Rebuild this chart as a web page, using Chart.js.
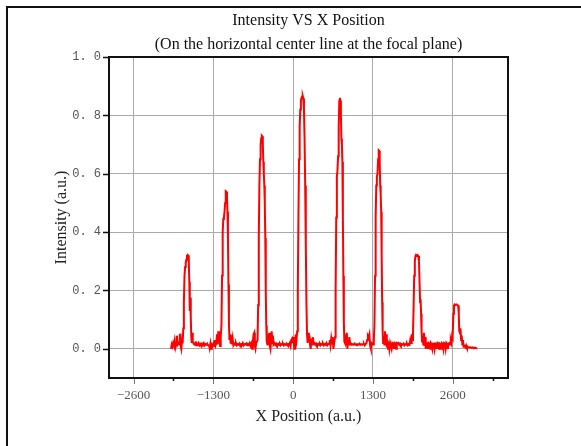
<!DOCTYPE html>
<html>
<head>
<meta charset="utf-8">
<script src="https://cdn.jsdelivr.net/npm/chart.js@4.4.1/dist/chart.umd.min.js"></script>
<style>
  html, body { margin: 0; padding: 0; background: #fff; }
  #wrap { position: relative; width: 581px; height: 446px; overflow: hidden; background: #fff; }
  #frame { position: absolute; left: 6px; top: 6px; width: 600px; height: 460px;
           border-top: 2px solid #111; border-left: 2px solid #111; }
  #c { position: absolute; left: 0; top: 0; }
</style>
</head>
<body>
<div id="wrap">
  <div id="frame"></div>
  <canvas id="c" width="581" height="446"></canvas>
</div>
<script>
// Intensity profile along the horizontal centre line (x position, intensity)
const xPos = [
  -1990,-1978,-1966,-1954,-1942,-1930,-1918,-1906,-1894,-1882,-1870,-1858,-1846,-1834,-1822,-1810,-1800,-1790,-1780,-1770,-1760,-1750,-1740,-1730,-1720,-1710,-1700,-1692,-1684,-1676,-1668,-1660,-1652,-1644,-1636,-1624,
  -1610,-1596,-1582,-1568,-1554,-1540,-1526,-1512,-1498,-1484,-1470,-1456,-1442,-1428,-1414,-1400,-1386,-1372,-1360,-1348,-1336,-1324,-1312,-1300,-1288,-1276,-1264,-1252,-1240,-1230,-1220,-1210,-1200,-1190,-1180,
  -1168,-1158,-1148,-1138,-1128,-1118,-1108,-1098,-1088,-1078,-1070,-1062,-1054,-1046,-1038,
  -1028,-1018,-1008,-998,-986,-974,-960,-946,-932,-918,-904,-890,-876,-862,-848,-834,-820,-806,-792,-778,-764,-750,-736,-722,-708,-694,-680,-668,-656,-644,-634,-624,-614,-602,
  -580,-570,-560,-550,-540,-530,-520,-510,-502,-494,-486,-478,-470,-462,-454,-446,-438,-430,
  -420,-410,-400,-390,-380,-370,-360,-350,-340,-330,-320,-306,-292,-278,-264,-250,-236,-222,-208,-194,-180,-166,-152,-138,-124,-110,-96,-82,-68,-54,-42,-30,-18,-6,6,18,30,42,54,
  66,76,86,96,106,116,126,136,146,156,166,176,186,196,206,216,226,
  236,246,256,266,276,286,296,308,320,332,346,360,374,388,402,416,430,444,458,472,486,500,514,528,542,556,570,584,596,608,620,632,644,656,668,
  682,692,702,712,722,732,742,752,762,770,778,786,794,802,810,818,826,834,
  844,854,864,874,884,894,904,916,928,942,956,970,984,998,1012,1026,1040,1054,1068,1082,1096,1110,1124,1138,1152,1166,1180,1194,1206,1218,1230,1242,1254,1266,1278,
  1302,1314,1324,1334,1344,1354,1364,1374,1384,1394,1402,1410,1418,1426,1434,1442,1450,1458,1466,
  1476,1486,1496,1506,1516,1526,1536,1546,1556,1568,1580,1592,1604,1616,1628,1640,1652,1664,1676,1688,1700,1714,1728,1742,1756,1770,1784,1798,1812,1826,1840,1854,1868,1882,1896,1908,1920,1932,1942,
  1952,1962,1972,1982,1992,2002,2014,2026,2038,2050,2060,2068,2076,2084,2092,2100,
  2110,2120,2130,2140,2150,2160,2172,2184,2196,2208,2220,2232,2244,2256,2268,2280,2292,2304,2316,2328,2340,2352,2364,2376,2388,2400,2412,2424,2436,2448,2460,2472,2484,2496,2508,2520,2532,2544,2556,2568,2580,2590,
  2598,2610,2620,2632,2646,2660,2674,2688,2698,2706,2716,2726,2736,2746,2756,2766,2776,2790,2804,2818,2832,2846,2860,2880,2900,2920,2940,2960,2980,3000
];
const intensity = [
  0.000,0.015,0.008,0.020,0.012,0.028,0.006,0.018,0.045,0.015,0.020,0.016,0.052,0.012,0.000,0.030,0.018,0.070,0.160,0.250,0.280,0.295,0.305,0.318,0.322,0.320,0.300,0.230,0.130,0.175,0.110,0.045,0.020,0.055,0.025,0.018,
  0.015,0.020,0.012,0.018,0.014,0.020,0.012,0.016,0.010,0.018,0.015,0.020,0.012,0.016,0.014,0.018,0.012,0.015,0.002,0.018,0.000,0.015,0.012,0.018,0.010,0.030,0.012,0.020,0.050,0.015,0.060,0.020,0.035,0.010,0.040,
  0.080,0.250,0.400,0.445,0.450,0.470,0.500,0.540,0.538,0.520,0.470,0.380,0.220,0.090,0.030,
  0.050,0.018,0.045,0.015,0.035,0.012,0.018,0.014,0.020,0.012,0.016,0.014,0.018,0.010,0.016,0.014,0.020,0.012,0.016,0.015,0.018,0.012,0.016,0.014,0.020,0.010,0.018,0.000,0.025,0.050,0.055,0.010,0.000,0.020,
  0.030,0.150,0.380,0.560,0.650,0.700,0.722,0.730,0.728,0.700,0.640,0.600,0.560,0.500,0.380,0.200,0.080,0.025,
  0.015,0.050,0.020,0.055,0.010,0.000,0.030,0.060,0.020,0.045,0.015,0.020,0.014,0.018,0.012,0.016,0.014,0.020,0.012,0.016,0.014,0.018,0.012,0.016,0.014,0.018,0.012,0.016,0.014,0.020,0.010,0.030,0.035,0.020,0.040,0.000,0.015,0.050,0.030,
  0.060,0.200,0.450,0.650,0.760,0.820,0.850,0.860,0.865,0.866,0.858,0.820,0.720,0.560,0.360,0.160,0.050,
  0.020,0.055,0.025,0.045,0.012,0.000,0.035,0.015,0.040,0.018,0.020,0.014,0.018,0.012,0.016,0.014,0.020,0.012,0.016,0.014,0.018,0.012,0.016,0.014,0.020,0.012,0.016,0.018,0.030,0.012,0.035,0.015,0.040,0.000,0.020,
  0.040,0.200,0.450,0.590,0.610,0.660,0.760,0.850,0.860,0.850,0.800,0.720,0.700,0.640,0.450,0.250,0.090,0.025,
  0.020,0.050,0.015,0.055,0.000,0.030,0.012,0.040,0.015,0.018,0.014,0.016,0.014,0.018,0.014,0.016,0.014,0.016,0.014,0.018,0.014,0.016,0.014,0.016,0.018,0.012,0.016,0.020,0.030,0.045,0.040,0.050,0.010,0.000,0.020,
  0.015,0.030,0.080,0.250,0.450,0.560,0.590,0.600,0.650,0.680,0.678,0.640,0.560,0.530,0.470,0.320,0.160,0.060,0.020,
  0.045,0.015,0.060,0.020,0.050,0.005,0.030,0.000,0.025,0.000,0.020,0.020,0.000,0.020,0.018,0.000,0.020,0.018,0.000,0.020,0.018,0.020,0.014,0.018,0.012,0.016,0.014,0.018,0.012,0.016,0.014,0.018,0.012,0.016,0.014,0.030,0.020,0.050,0.030,
  0.050,0.140,0.250,0.300,0.318,0.322,0.320,0.322,0.318,0.300,0.220,0.160,0.170,0.120,0.060,0.025,
  0.045,0.015,0.055,0.010,0.040,0.000,0.020,0.018,0.000,0.020,0.018,0.000,0.020,0.016,0.000,0.018,0.020,0.000,0.018,0.016,0.000,0.020,0.018,0.000,0.018,0.016,0.000,0.020,0.018,0.000,0.020,0.018,0.000,0.020,0.016,0.000,0.018,0.020,0.015,0.030,0.020,0.045,
  0.040,0.120,0.148,0.152,0.150,0.152,0.150,0.148,0.120,0.060,0.055,0.070,0.030,0.045,0.015,0.030,0.008,0.010,0.005,0.012,0.004,0.006,0.004,0.006,0.003,0.005,0.002,0.004,0.002,0.002
];

// Axis range and tick positions
const xRange = [-3000, 3500];
const yRange = [-0.1, 1.0];
const xTicks = [-2600, -1300, 0, 1300, 2600];
const xMinorTicks = [-1950, -650, 650, 1950, 3250];
const yTicks = [0, 0.2, 0.4, 0.6, 0.8, 1.0];

const points = xPos.map((x, i) => ({ x: x, y: intensity[i] }));

// Plot frame and outward tick marks
const frameTicks = {
  id: 'frameTicks',
  afterDatasetsDraw(chart) {
    const { ctx, chartArea: a, scales: { x, y } } = chart;
    ctx.save();
    ctx.lineWidth = 1.5;
    ctx.strokeStyle = '#111';
    ctx.beginPath();
    yTicks.forEach(v => {
      const py = Math.round(y.getPixelForValue(v)) + 0.5;
      ctx.moveTo(a.left - 6, py); ctx.lineTo(a.left, py);
    });
    xMinorTicks.forEach(v => {
      const px = Math.round(x.getPixelForValue(v)) + 0.5;
      ctx.moveTo(px, a.bottom); ctx.lineTo(px, a.bottom + 3);
    });
    ctx.stroke();
    ctx.strokeStyle = '#777';
    ctx.lineWidth = 1;
    ctx.beginPath();
    xTicks.forEach(v => {
      const px = Math.round(x.getPixelForValue(v)) + 0.5;
      ctx.moveTo(px, a.bottom); ctx.lineTo(px, a.bottom + 6);
    });
    ctx.stroke();
    ctx.strokeStyle = '#111';
    ctx.lineWidth = 2;
    ctx.strokeRect(a.left, a.top, a.right - a.left, a.bottom - a.top);
    ctx.restore();
  }
};

new Chart(document.getElementById('c'), {
  type: 'line',
  data: {
    datasets: [{
      data: points,
      borderColor: '#ff0000',
      borderWidth: 2,
      pointRadius: 0,
      tension: 0,
      fill: false
    }]
  },
  options: {
    responsive: false,
    animation: false,
    devicePixelRatio: 1,
    layout: { padding: { left: 48, right: 73, top: 0, bottom: 0 } },
    plugins: {
      legend: { display: false },
      tooltip: { enabled: false },
      title: {
        display: true,
        fullSize: false,
        text: ['Intensity VS X Position', '(On the horizontal center line at the focal plane)'],
        color: '#111',
        font: { family: 'Liberation Serif', size: 16, weight: 'normal', lineHeight: 1.5 },
        padding: { top: 9, bottom: 0 }
      }
    },
    scales: {
      x: {
        type: 'linear',
        min: xRange[0],
        max: xRange[1],
        afterBuildTicks: s => { s.ticks = xTicks.map(v => ({ value: v })); },
        afterFit: s => { s.height = 68; },
        grid: { color: '#aaaaaa', lineWidth: 1, drawTicks: false },
        border: { display: false },
        ticks: {
          autoSkip: false, maxRotation: 0, padding: 10, color: '#555',
          font: { family: 'Liberation Serif', size: 13 },
          callback: v => v < 0 ? '\u2212' + Math.abs(v) : String(v)
        },
        title: {
          display: true, text: 'X Position (a.u.)', color: '#222',
          font: { family: 'Liberation Serif', size: 16 },
          padding: { top: 0, bottom: 20 }
        }
      },
      y: {
        min: yRange[0],
        max: yRange[1],
        afterBuildTicks: s => { s.ticks = yTicks.map(v => ({ value: v })); },
        afterFit: s => { s.width = 61; },
        grid: { color: '#aaaaaa', lineWidth: 1, drawTicks: false },
        border: { display: false },
        ticks: {
          padding: 8, color: '#555',
          font: { family: 'Liberation Mono', size: 12 },
          callback: v => v.toFixed(1).replace('.', '. ')
        },
        title: {
          display: true, text: 'Intensity (a.u.)', color: '#222',
          font: { family: 'Liberation Serif', size: 16 },
          padding: { top: 4, bottom: 0 }
        }
      }
    }
  },
  plugins: [frameTicks]
});
</script>
</body>
</html>
